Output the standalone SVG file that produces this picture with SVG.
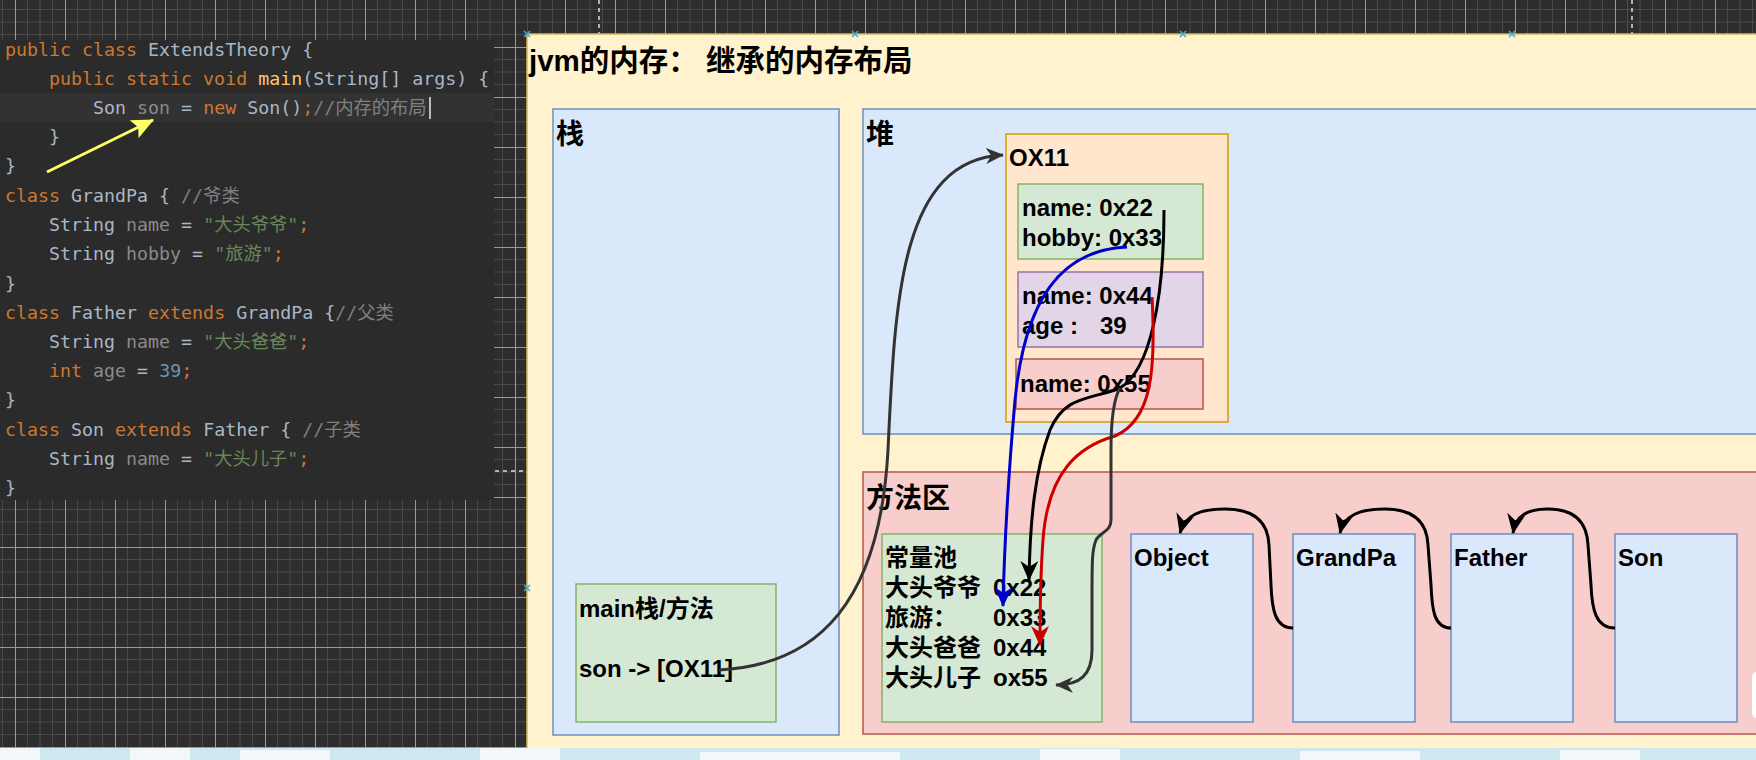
<svg xmlns="http://www.w3.org/2000/svg" width="1756" height="760" viewBox="0 0 1756 760">
<defs>
<pattern id="grid" patternUnits="userSpaceOnUse" x="15" y="-3" width="50" height="50">
<rect width="50" height="50" fill="#2d2d2d"/>
<path d="M12.5,0V50M25,0V50M37.5,0V50M0,12.5H50M0,25H50M0,37.5H50" stroke="#4a4a4a" stroke-width="1"/>
<path d="M0.5,0V50M0,0.5H50" stroke="#9a9a9a" stroke-width="1"/>
</pattern>
<marker id="ah-blk" viewBox="0 0 20 18" refX="19" refY="9" markerWidth="20" markerHeight="18" markerUnits="userSpaceOnUse" orient="auto"><path d="M0,0 L20,9 L0,18 L6,9 Z" fill="#000"/></marker>
<marker id="ah-gry" viewBox="0 0 20 18" refX="19" refY="9" markerWidth="18" markerHeight="17" markerUnits="userSpaceOnUse" orient="auto"><path d="M0,0 L20,9 L0,18 L6,9 Z" fill="#333"/></marker>
<marker id="ah-blu" viewBox="0 0 20 18" refX="19" refY="9" markerWidth="20" markerHeight="18" markerUnits="userSpaceOnUse" orient="auto"><path d="M0,0 L20,9 L0,18 L6,9 Z" fill="#0000cc"/></marker>
<marker id="ah-red" viewBox="0 0 20 18" refX="19" refY="9" markerWidth="20" markerHeight="18" markerUnits="userSpaceOnUse" orient="auto"><path d="M0,0 L20,9 L0,18 L6,9 Z" fill="#cc0000"/></marker>
<marker id="ah-yel" viewBox="0 0 20 18" refX="19" refY="9" markerWidth="22" markerHeight="20" markerUnits="userSpaceOnUse" orient="auto"><path d="M0,0 L20,9 L0,18 L4,9 Z" fill="#ffff66"/></marker>
</defs>
<style>
.code text{font-family:"DejaVu Sans Mono","Noto Sans CJK SC",monospace;font-size:18.3px;fill:#a9b7c6}
.k{fill:#cc7832}.v{fill:#8a8a8a}.s{fill:#6a8759}.m{fill:#808080}.n{fill:#6897bb}.f{fill:#ffc66d}
.lbl{font-family:"Liberation Sans",Arial,"Noto Sans CJK SC",sans-serif;font-weight:bold;fill:#000}
.t29{font-size:29.5px}.t28{font-size:28px}.t24{font-size:24px}
.blue{fill:#dae8fc;stroke:#6c8ebf;stroke-width:1.5}
.pink{fill:#f8cecc;stroke:#b85450;stroke-width:1.5}
.green{fill:#d5e8d4;stroke:#82b366;stroke-width:1.5}
.orange{fill:#ffe6cc;stroke:#d79b00;stroke-width:1.5}
.purple{fill:#e1d5e7;stroke:#9673a6;stroke-width:1.5}
.conn path{fill:none;stroke-width:3}
.handle{stroke:#3fa9d4;stroke-width:1.5;fill:none}
</style>

<rect width="1756" height="760" fill="url(#grid)"/>
<path d="M599,0V34M1632,0V34" stroke="#dddddd" stroke-width="1.5" stroke-dasharray="4,4"/>
<path d="M495,471H527" stroke="#dddddd" stroke-width="1.5" stroke-dasharray="4,4"/>

<g id="code" class="code">
<rect x="0" y="40" width="494" height="460" fill="#2b2b2b"/>
<rect x="0" y="93" width="494" height="29" fill="#323232"/>
<text xml:space="preserve" x="5" y="56"><tspan class="k">public class </tspan>ExtendsTheory {</text>
<text xml:space="preserve" x="5" y="85">    <tspan class="k">public static void </tspan><tspan class="f">main</tspan>(String[] args) {</text>
<text xml:space="preserve" x="5" y="114">        Son <tspan class="v">son</tspan> = <tspan class="k">new </tspan>Son()<tspan class="k">;</tspan><tspan class="m">//内存的布局</tspan></text>
<rect x="429" y="97" width="2" height="22" fill="#bbbbbb"/>
<text xml:space="preserve" x="5" y="143">    }</text>
<text xml:space="preserve" x="5" y="172">}</text>
<text xml:space="preserve" x="5" y="202"><tspan class="k">class </tspan>GrandPa { <tspan class="m">//爷类</tspan></text>
<text xml:space="preserve" x="5" y="231">    String <tspan class="v">name</tspan> = <tspan class="s">"大头爷爷"</tspan><tspan class="k">;</tspan></text>
<text xml:space="preserve" x="5" y="260">    String <tspan class="v">hobby</tspan> = <tspan class="s">"旅游"</tspan><tspan class="k">;</tspan></text>
<text xml:space="preserve" x="5" y="290">}</text>
<text xml:space="preserve" x="5" y="319"><tspan class="k">class </tspan>Father <tspan class="k">extends </tspan>GrandPa {<tspan class="m">//父类</tspan></text>
<text xml:space="preserve" x="5" y="348">    String <tspan class="v">name</tspan> = <tspan class="s">"大头爸爸"</tspan><tspan class="k">;</tspan></text>
<text xml:space="preserve" x="5" y="377">    <tspan class="k">int </tspan><tspan class="v">age</tspan> = <tspan class="n">39</tspan><tspan class="k">;</tspan></text>
<text xml:space="preserve" x="5" y="406">}</text>
<text xml:space="preserve" x="5" y="436"><tspan class="k">class </tspan>Son <tspan class="k">extends </tspan>Father { <tspan class="m">//子类</tspan></text>
<text xml:space="preserve" x="5" y="465">    String <tspan class="v">name</tspan> = <tspan class="s">"大头儿子"</tspan><tspan class="k">;</tspan></text>
<text xml:space="preserve" x="5" y="494">}</text>
<path d="M47,172 L153,120" stroke="#ffff66" stroke-width="3" fill="none" marker-end="url(#ah-yel)"/>
</g>

<g id="jvm-memory">
<rect x="527" y="34" width="1240" height="716" fill="#fff2cc" stroke="#d6b656" stroke-width="1.5"/>
<text class="lbl t29" x="529" y="71">jvm的内存： 继承的内存布局</text>
</g>

<g id="stack">
<rect class="blue" x="553" y="109" width="286" height="626"/>
<text class="lbl t28" x="556" y="144">栈</text>
</g>

<g id="main-frame">
<rect class="green" x="576" y="584" width="200" height="138"/>
<text class="lbl t24" x="579" y="617">main栈/方法</text>
<text class="lbl t24" x="579" y="677">son -&gt; [OX11]</text>
</g>

<g id="heap">
<rect class="blue" x="863" y="109" width="910" height="325"/>
<text class="lbl t28" x="866" y="144">堆</text>
</g>

<g id="obj-ox11">
<rect class="orange" x="1006" y="134" width="222" height="288"/>
<text class="lbl t24" x="1009" y="166">OX11</text>
</g>

<g id="grandpa-part">
<rect class="green" x="1018" y="184" width="185" height="75"/>
<text class="lbl t24" x="1022" y="216">name: 0x22</text>
<text class="lbl t24" x="1022" y="246">hobby: 0x33</text>
</g>

<g id="father-part">
<rect class="purple" x="1018" y="272" width="185" height="75"/>
<text class="lbl t24" x="1022" y="304">name: 0x44</text>
<text class="lbl t24" x="1022" y="334">age :<tspan x="1100">39</tspan></text>
</g>

<g id="son-part">
<rect class="pink" x="1016" y="359" width="187" height="50"/>
<text class="lbl t24" x="1020" y="392">name: 0x55</text>
</g>

<g id="method-area">
<rect class="pink" x="863" y="472" width="910" height="262"/>
<text class="lbl t28" x="866" y="508">方法区</text>
</g>

<g id="constant-pool">
<rect class="green" x="882" y="534" width="220" height="188"/>
<text class="lbl t24" x="885" y="566">常量池</text>
<text class="lbl t24" x="885" y="596">大头爷爷<tspan x="993">0x22</tspan></text>
<text class="lbl t24" x="885" y="626">旅游：<tspan x="993">0x33</tspan></text>
<text class="lbl t24" x="885" y="656">大头爸爸<tspan x="993">0x44</tspan></text>
<text class="lbl t24" x="885" y="686">大头儿子<tspan x="993">ox55</tspan></text>
</g>

<g id="class-object">
<rect class="blue" x="1131" y="534" width="122" height="188"/>
<text class="lbl t24" x="1134" y="566">Object</text>
</g>
<g id="class-grandpa">
<rect class="blue" x="1293" y="534" width="122" height="188"/>
<text class="lbl t24" x="1296" y="566">GrandPa</text>
</g>
<g id="class-father">
<rect class="blue" x="1451" y="534" width="122" height="188"/>
<text class="lbl t24" x="1454" y="566">Father</text>
</g>
<g id="class-son">
<rect class="blue" x="1615" y="534" width="122" height="188"/>
<text class="lbl t24" x="1618" y="566">Son</text>
</g>

<g id="connectors" class="conn">
<path d="M719,670 C820,665 880,600 888,450 C895,300 900,160 1003,155" stroke="#333" marker-end="url(#ah-gry)"/>
<path d="M1164,210 C1164,300 1150,370 1120,388 C1090,400 1065,395 1050,430 C1035,470 1030,520 1029,580" stroke="#000" marker-end="url(#ah-blk)"/>
<path d="M1127,247 C1060,250 1025,300 1015,400 C1008,480 1004,560 1003,606" stroke="#0000cc" marker-end="url(#ah-blu)"/>
<path d="M1152,297 C1156,370 1152,420 1115,436 C1080,446 1048,470 1043,540 C1040,580 1040,620 1040,645" stroke="#cc0000" marker-end="url(#ah-red)"/>
<path d="M1120,388 C1113,400 1111,420 1111,450 L1111,520 C1111,532 1100,532 1096,540 C1092,550 1092,560 1092,600 L1092,650 C1092,675 1080,685 1056,685" stroke="#333" marker-end="url(#ah-gry)"/>
<path d="M1293,628 C1275,628 1272,610 1271,585 L1269,545 C1268,522 1255,509 1225,509 C1200,509 1185,515 1180,533" stroke="#000" marker-end="url(#ah-blk)"/>
<path d="M1451,628 C1434,628 1432,610 1431,585 L1428,545 C1427,522 1414,509 1385,509 C1360,509 1344,515 1340,533" stroke="#000" marker-end="url(#ah-blk)"/>
<path d="M1615,628 C1596,628 1592,610 1591,585 L1588,545 C1587,522 1575,509 1548,509 C1528,509 1516,515 1513,533" stroke="#000" marker-end="url(#ah-blk)"/>
</g>

<path class="handle" d="M524,31l6,6m0,-6l-6,6M852,31l6,6m0,-6l-6,6M1180,31l6,6m0,-6l-6,6M1509,31l6,6m0,-6l-6,6M524,585l6,6m0,-6l-6,6"/>
<rect x="1752" y="672" width="12" height="46" rx="5" fill="#ffffff"/>
<rect x="0" y="748" width="1756" height="12" fill="#cfe7ef"/>
<path d="M0,748H40V760H0ZM130,748H190V760H130ZM240,750H330V760H240ZM480,748H560V760H480ZM700,752H900V760H700ZM1040,749H1120V760H1040ZM1300,751H1420V760H1300ZM1560,750H1640V760H1560Z" fill="#f2f8fa"/>
</svg>
